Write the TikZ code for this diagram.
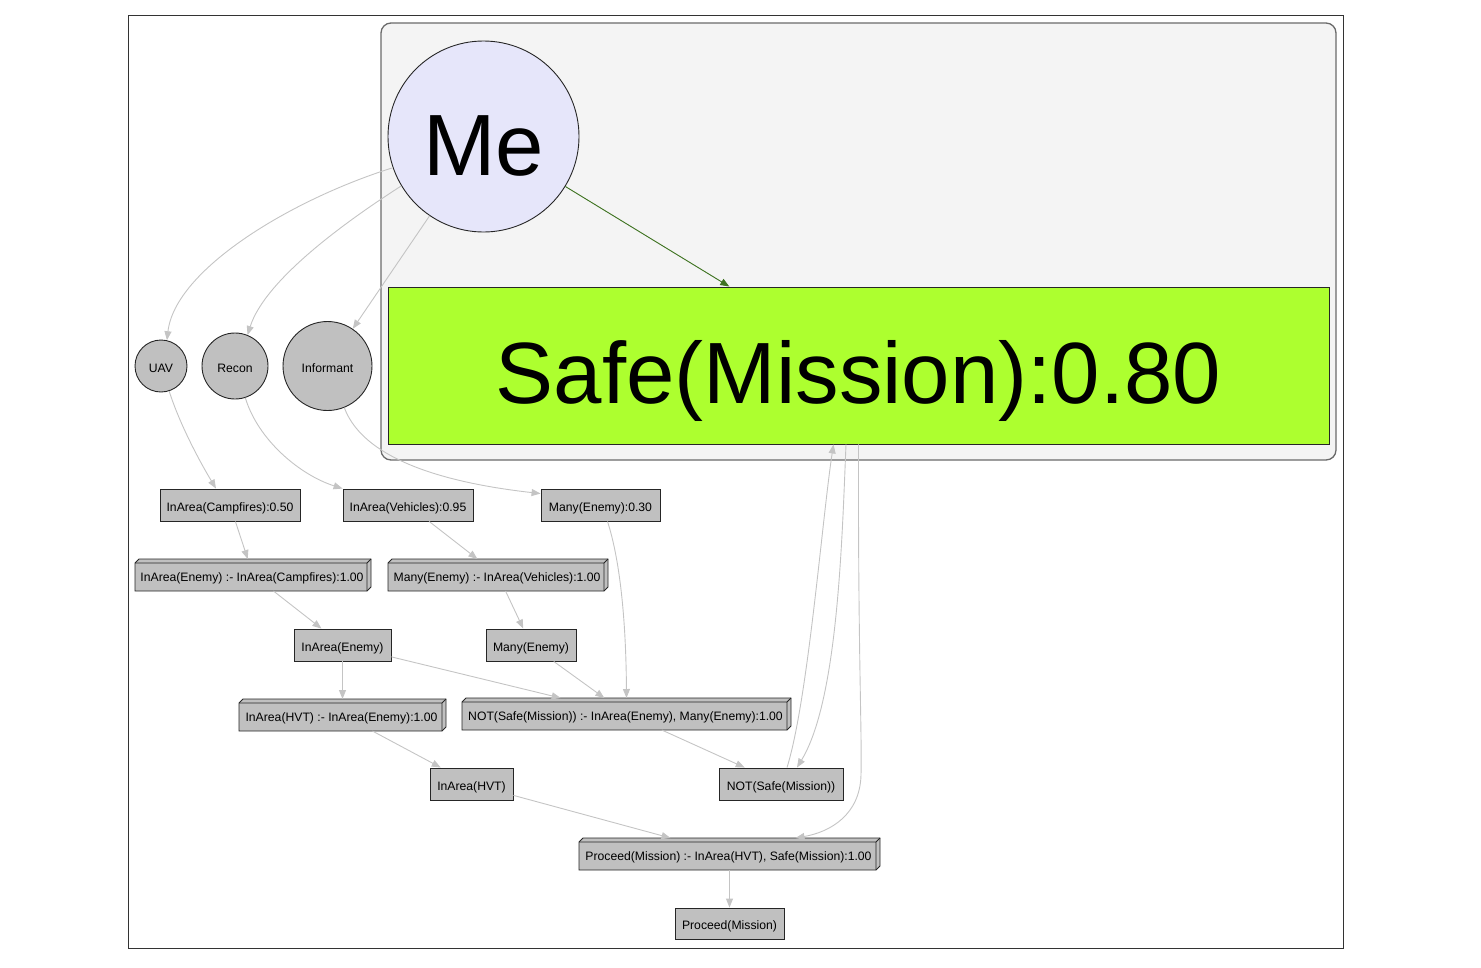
\documentclass[tikz,border=0pt]{standalone}
\usepackage{fontspec}
\setmainfont{Liberation Sans}
\usetikzlibrary{arrows.meta,calc}
\definecolor{lav}{HTML}{E6E6FA}
\definecolor{gyellow}{HTML}{ADFF2F}
\definecolor{silv}{HTML}{C0C0C0}
\definecolor{clfill}{HTML}{F4F4F4}
\definecolor{clborder}{HTML}{6A6A6A}
\definecolor{edgegray}{HTML}{C4C4C4}
\definecolor{mygreen}{HTML}{3F7422}
\tikzset{
  every node/.style={font=\fontsize{12.2}{14}\selectfont, text height=12.2pt, text depth=0pt},
  circ/.style={circle, draw=black!85, fill=silv, line width=0.9pt, inner sep=0pt},
  plain/.style={rectangle, draw=black!85, fill=silv, line width=0.9pt, minimum height=32pt, inner sep=0pt},
  b3/.style={rectangle, minimum height=32pt, inner sep=0pt, outer sep=0pt},
  b3face/.style={draw=black!85, fill=silv, line width=0.9pt, line join=miter},
  conn/.style={draw=edgegray, line width=0.9pt, -{Triangle[length=9pt,width=7pt]}},
  bigtext/.style={font=\fontsize{87}{100}\selectfont},
}
\newcommand{\bthree}[4]{%
  \node[b3, minimum width=#3] (#1) at #2 {};
  \filldraw[b3face] (#1.south west) -- ([yshift=-4pt]#1.north west) -- ([xshift=4pt]#1.north west) -- (#1.north east) -- ([yshift=4pt]#1.south east) -- ([xshift=-4pt]#1.south east) -- cycle;
  \draw[b3face, fill=none] ([yshift=-4pt]#1.north west) -- ([shift={(-4pt,-4pt)}]#1.north east) -- ([xshift=-4pt]#1.south east)
     ([shift={(-4pt,-4pt)}]#1.north east) -- (#1.north east);
  \node (#1t) at ([shift={(-1pt,-0.5pt)}]#1.center) {#4};
}
\begin{document}
\begin{tikzpicture}[x=1pt,y=-1pt]
\useasboundingbox (0,0) rectangle (1481,967);
% outer frame
\draw[black!80, line width=0.9pt] (128,15) rectangle (1343,948);
% cluster
\draw[clborder, fill=clfill, line width=1.3pt, rounded corners=10pt] (381,23) rectangle (1336,460);

% nodes
\node[circle, draw=black!85, fill=lav, line width=0.9pt, minimum size=191pt, inner sep=0pt, bigtext, text height=77pt, text depth=0pt] (me) at (483.5,136.5) {Me};
\node[rectangle, draw=black!85, fill=gyellow, line width=0.9pt, minimum width=941pt, minimum height=157pt, inner sep=0pt, bigtext, text height=75pt, text depth=0pt] (safe) at (858.5,365.5) {Safe(Mission):0.80};

\node[circ, minimum size=52pt] (uav) at (161,366) {UAV};
\node[circ, minimum size=66pt] (recon) at (235,366) {Recon};
\node[circ, minimum size=89pt] (inf) at (327.5,366) {Informant};

\node[plain, minimum width=140pt] (camp) at (230,505) {InArea(Campfires):0.50};
\node[plain, minimum width=130pt] (veh) at (408,505) {InArea(Vehicles):0.95};
\node[plain, minimum width=119pt] (many30) at (600.5,505) {Many(Enemy):0.30};

\bthree{ie1}{(253,575)}{236pt}{InArea(Enemy) :- InArea(Campfires):1.00}
\bthree{me1}{(498,575)}{220pt}{Many(Enemy) :- InArea(Vehicles):1.00}

\node[plain, minimum width=97pt] (ie) at (342.5,645) {InArea(Enemy)};
\node[plain, minimum width=90pt] (many) at (531,645) {Many(Enemy)};

\bthree{ihvt1}{(342.5,715)}{207pt}{InArea(HVT) :- InArea(Enemy):1.00}
\bthree{not1}{(626.5,714)}{329pt}{NOT(Safe(Mission)) :- InArea(Enemy), Many(Enemy):1.00}

\node[plain, minimum width=83pt] (ihvt) at (471.5,784) {InArea(HVT)};
\node[plain, minimum width=124pt] (notsafe) at (781,784) {NOT(Safe(Mission))};

\bthree{proc1}{(729.5,854)}{301pt}{Proceed(Mission) :- InArea(HVT), Safe(Mission):1.00}

\node[plain, minimum width=109pt, minimum height=31pt] (proc) at (729.5,923.5) {Proceed(Mission)};

% edges
\draw[conn] (me.199) .. controls (290,200) and (175,270) .. (uav.77);
\draw[conn] (me.211) .. controls (345,222) and (265,280) .. (recon.68);
\draw[conn] (me) -- (inf);
\draw[conn, draw=mygreen, fill=mygreen] (me) -- (safe);

\draw[conn] (uav.-72) .. controls (180,425) and (200,462) .. ([xshift=-14pt]camp.north);
\draw[conn] (recon.-72) .. controls (258,440) and (300,475) .. (veh.north west);
\draw[conn] (inf.-68) .. controls (360,450) and (420,480) .. ([yshift=-5pt]many30.north west);

\draw[conn] (camp) -- (ie1);
\draw[conn] (veh) -- (me1);
\draw[conn] ([xshift=7pt]many30.south) .. controls (620,560) and (626,620) .. (not1.north);

\draw[conn] (ie1) -- (ie);
\draw[conn] (me1) -- (many);
\draw[conn] (ie) -- (ihvt1);
\draw[conn] (ie) -- (not1);
\draw[conn] (many) -- (not1);

\draw[conn] (ihvt1) -- (ihvt);
\draw[conn] (not1) -- (notsafe);

\draw[conn] ([xshift=6pt]notsafe.north) .. controls (808,700) and (822,520) .. ([xshift=-25pt]safe.south);
\draw[conn] ([xshift=-12.5pt]safe.south) .. controls (842,540) and (838,700) .. ([xshift=16pt]notsafe.north);
\coordinate (bendp) at (861,775);
\draw[conn] (safe.south) .. controls (858,650) and (862,730) .. (bendp) .. controls (860,815) and (830,832) .. ([xshift=66pt]proc1.north);

\draw[conn] (ihvt) -- (proc1);
\draw[conn] (proc1) -- (proc);
\end{tikzpicture}
\end{document}
